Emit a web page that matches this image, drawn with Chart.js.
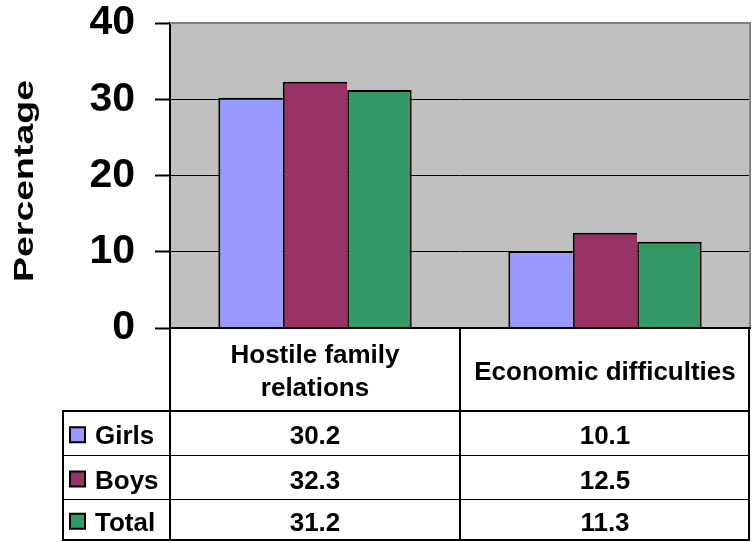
<!DOCTYPE html>
<html><head><meta charset="utf-8">
<script src="https://cdn.jsdelivr.net/npm/chart.js@4.4.1/dist/chart.umd.min.js"></script>
<style>html,body{margin:0;padding:0;background:#fff;} canvas{display:block;}</style>
</head><body>
<canvas id="c" width="753" height="542"></canvas>
<script>
// ---- data ----
const categories = ['Hostile family relations', 'Economic difficulties'];
const seriesNames = ['Girls', 'Boys', 'Total'];
const girls = [30.2, 10.1];
const boys = [32.3, 12.5];
const total = [31.2, 11.3];
const yTicks = [0, 10, 20, 30, 40];
const axisTitle = 'Percentage';

// ---- styles ----
const colors = ['#9999FF', '#993366', '#339966'];
const FONT = "'Liberation Sans', Arial, Helvetica, sans-serif";

const plotBg = {
  id: 'plotBg',
  beforeDraw(chart) {
    const { ctx, chartArea: a } = chart;
    ctx.save();
    ctx.fillStyle = '#C0C0C0';
    ctx.fillRect(a.left, a.top, a.right - a.left, a.bottom - a.top);
    ctx.restore();
  }
};

function wrap(ctx, text, maxW) {
  const words = text.split(' ');
  const lines = [];
  let cur = '';
  for (const w of words) {
    const t = cur ? cur + ' ' + w : w;
    if (ctx.measureText(t).width > maxW && cur) { lines.push(cur); cur = w; }
    else cur = t;
  }
  if (cur) lines.push(cur);
  return lines;
}

const dataTable = {
  id: 'dataTable',
  afterDraw(chart) {
    const ctx = chart.ctx, a = chart.chartArea, xs = chart.scales.x;
    const L = 63, R = 749;
    const hdrTop = a.bottom, hdrBot = 411;
    const rowLines = [411, 455.5, 499.5, 540];
    ctx.save();
    // plot area gray border (top, right)
    ctx.strokeStyle = '#808080';
    ctx.lineWidth = 2;
    ctx.beginPath();
    ctx.moveTo(a.left, a.top); ctx.lineTo(a.right + 1, a.top);
    ctx.moveTo(a.right, a.top); ctx.lineTo(a.right, a.bottom);
    ctx.stroke();

    // table lines
    ctx.strokeStyle = '#000';
    ctx.lineWidth = 2;
    ctx.beginPath();
    ctx.moveTo(a.left, a.bottom); ctx.lineTo(a.right + 1, a.bottom);
    ctx.moveTo(L - 1, hdrBot); ctx.lineTo(R + 1, hdrBot);
    ctx.moveTo(L - 1, rowLines[3]); ctx.lineTo(R + 1, rowLines[3]);
    ctx.moveTo(L, hdrBot); ctx.lineTo(L, rowLines[3] + 1);
    const c0 = xs.getPixelForValue(0), c1 = xs.getPixelForValue(1);
    const mid = (c0 + c1) / 2;
    ctx.moveTo(a.left, a.bottom); ctx.lineTo(a.left, rowLines[3] + 1);
    ctx.moveTo(mid, a.bottom); ctx.lineTo(mid, rowLines[3] + 1);
    ctx.moveTo(R, a.bottom); ctx.lineTo(R, rowLines[3] + 1);
    ctx.stroke();
    ctx.lineWidth = 1;
    ctx.beginPath();
    ctx.moveTo(L, rowLines[1]); ctx.lineTo(R, rowLines[1]);
    ctx.moveTo(L, rowLines[2]); ctx.lineTo(R, rowLines[2]);
    ctx.stroke();

    // header text
    ctx.fillStyle = '#000';
    ctx.font = 'bold 26px ' + FONT;
    ctx.textAlign = 'center';
    ctx.textBaseline = 'alphabetic';
    const hdrMid = (hdrTop + hdrBot) / 2;
    categories.forEach((cat, i) => {
      const cx = xs.getPixelForValue(i);
      const lines = wrap(ctx, cat, 280);
      const lh = 33;
      const base0 = hdrMid + 10 - (lines.length - 1) * lh / 2;
      lines.forEach((ln, j) => ctx.fillText(ln, cx, base0 + j * lh));
    });

    // rows
    const series = chart.data.datasets;
    series.forEach((ds, r) => {
      const top = rowLines[r], bot = rowLines[r + 1];
      const cy = (top + bot) / 2;
      // legend key
      ctx.fillStyle = ds.backgroundColor;
      ctx.fillRect(70, cy - 6, 15, 15);
      ctx.strokeStyle = '#000';
      ctx.lineWidth = 2;
      ctx.strokeRect(70, cy - 6, 15, 15);
      ctx.fillStyle = '#000';
      ctx.textAlign = 'left';
      ctx.fillText(ds.label, 95, cy + 11);
      ctx.textAlign = 'center';
      ds.data.forEach((v, i) => {
        ctx.fillText(v.toFixed(1), xs.getPixelForValue(i), cy + 11);
      });
    });

    // axis title (stretched along its length as in the reference)
    ctx.font = 'bold 28px ' + FONT;
    const w = ctx.measureText(axisTitle).width;
    ctx.translate(33, 181);
    ctx.rotate(-Math.PI / 2);
    ctx.scale(202 / w, 1);
    ctx.textAlign = 'center';
    ctx.fillText(axisTitle, 0, 0);
    ctx.restore();
  }
};

const dsCommon = { borderColor: '#000', categoryPercentage: 2 / 3, barPercentage: 1.0 };
new Chart(document.getElementById('c'), {
  type: 'bar',
  data: {
    labels: categories,
    datasets: [
      { ...dsCommon, label: seriesNames[0], data: girls, backgroundColor: colors[0], borderWidth: { top: 2, left: 2, right: 0, bottom: 0 } },
      { ...dsCommon, label: seriesNames[1], data: boys, backgroundColor: colors[1], borderWidth: { top: 2, left: 2, right: 0, bottom: 0 } },
      { ...dsCommon, label: seriesNames[2], data: total, backgroundColor: colors[2], borderWidth: { top: 2, left: 2, right: 2, bottom: 0 } }
    ]
  },
  options: {
    responsive: false,
    devicePixelRatio: 1,
    animation: false,
    layout: { padding: { left: 0, right: 3, top: 23, bottom: 214 } },
    plugins: { legend: { display: false }, tooltip: { enabled: false } },
    scales: {
      x: { display: false },
      y: {
        min: yTicks[0],
        max: yTicks[yTicks.length - 1],
        afterBuildTicks(scale) { scale.ticks = yTicks.map(v => ({ value: v })); },
        afterFit(scale) { scale.width = 170; scale.paddingTop = 0; scale.paddingBottom = 0; },
        ticks: {
          color: '#000',
          padding: 20,
          font: { family: FONT, size: 41, weight: 'bold', lineHeight: 1 }
        },
        grid: { color: '#000', lineWidth: 1, tickLength: 15, tickWidth: 2, tickColor: '#000' },
        border: { display: true, color: '#000', width: 2 },
        title: { display: false }
      }
    }
  },
  plugins: [plotBg, dataTable]
});
</script>
</body></html>
